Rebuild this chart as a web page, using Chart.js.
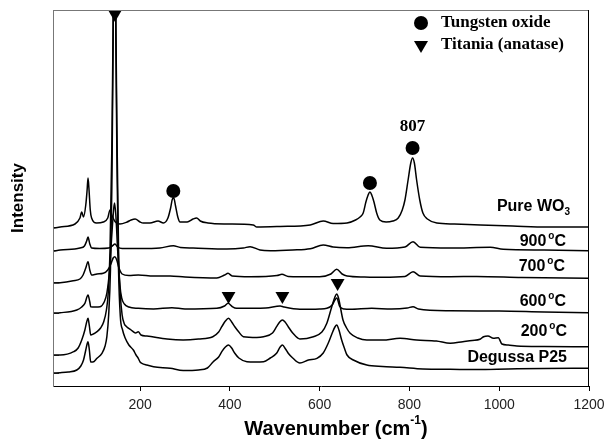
<!DOCTYPE html>
<html>
<head>
<meta charset="utf-8">
<script src="https://cdn.jsdelivr.net/npm/chart.js@4/dist/chart.umd.min.js"></script>
<style>
  html, body { margin: 0; padding: 0; background: #fff; }
</style>
</head>
<body>
<canvas id="raman" width="614" height="443"></canvas>
<script>
/* Raman spectra of WO3/TiO2 samples, stacked traces (arbitrary intensity units). */

const xTickValues = [200, 400, 600, 800, 1000, 1200];
const baselineTicks = [13, 31, 73, 104, 136, 159];

const p25Wn = [8, 22, 40, 59, 68, 74, 79, 82, 84, 87, 90, 95, 104, 115, 122, 126, 130, 134, 137, 140,
  143, 146, 149, 152, 156, 161, 167, 175, 185, 191, 196, 200, 204, 215, 230, 267, 296, 330, 350, 363,
  375, 382, 390, 397, 404, 411, 420, 438, 456, 475, 490, 504, 512, 517, 524, 530, 540, 556, 575, 594,
  608, 619, 628, 634, 638, 643, 649, 655, 661, 675, 705, 740, 779, 830, 891, 950, 1020, 1100, 1198];
const p25Int = [13, 13.3, 14, 16, 20, 26, 36, 42, 44.3, 36, 24, 24, 27.7, 32.7, 40, 49.3, 71, 116, 196, 346,
  686, 346, 206, 116, 69.3, 56, 47.7, 41, 36, 31, 27.7, 24, 22.7, 21, 19.3, 17.7, 15.5, 16, 18, 24.3,
  29, 34.3, 39, 41, 38, 32.7, 28, 24.3, 24, 24.3, 28, 32.7, 39, 41, 37, 32.7, 28, 23, 26, 27.7,
  33, 42.7, 53, 59, 61, 56, 46, 38, 31, 26, 21, 19.5, 18.7, 17, 16.7, 16.5, 17, 17.5, 17.7];

const t200Wn = [8, 22, 52, 62, 70, 77, 81, 84, 87, 90, 96, 104, 112, 119, 125, 129, 133, 137, 140, 143,
  146, 149, 152, 156, 160, 165, 170, 180, 190, 196, 202, 215, 260, 296, 330, 362, 375, 382, 390, 397,
  404, 411, 420, 430, 460, 475, 495, 504, 511, 517, 523, 530, 540, 556, 586, 605, 616, 627, 634, 638,
  642, 652, 660, 668, 685, 705, 740, 779, 816, 860, 891, 919, 940, 957, 965, 975, 987, 998, 1006, 1020,
  1039, 1100, 1198];
const t200Int = [31, 31, 34.3, 38, 46, 56, 64, 67.7, 60, 51, 52, 54.3, 58, 64.3, 76, 93, 136, 236, 366, 686,
  366, 236, 136, 91, 71, 62, 59.3, 56, 53, 54.3, 51, 50, 47, 46, 47, 49.3, 54, 59.3, 65, 67.7,
  64, 59.3, 54, 49.3, 48.5, 49.3, 53, 59.3, 64, 66, 64, 59.3, 53, 47, 49.3, 54, 62.7, 79.3, 89, 92,
  88, 66, 58, 52.7, 48, 46, 46, 47.7, 46, 45, 42.7, 44.3, 45.5, 46.7, 49.3, 50, 47.7, 48.3, 42, 41,
  40, 39.5, 39.3];

const t600Wn = [8, 22, 59, 70, 77, 84, 88, 90, 100, 111, 120, 126, 132, 137, 141, 143, 146, 150, 155, 159,
  165, 175, 196, 230, 271, 300, 371, 388, 396, 405, 415, 480, 512, 520, 556, 600, 616, 628, 634, 638,
  645, 655, 668, 716, 760, 795, 808, 820, 891, 1000, 1100, 1198];
const t600Int = [73, 73.3, 76, 79, 82.7, 91, 84, 79.3, 79, 79.3, 84, 93, 116, 151, 176, 183, 171, 136, 101, 88,
  82, 79, 77.7, 77, 78.3, 77, 77.7, 80, 82.7, 79.5, 77.7, 78, 80, 79, 76.7, 77, 77.7, 81, 86, 88,
  79.3, 77, 76.7, 77.7, 77, 78, 79.3, 77, 75.3, 75, 74, 73.3];

const t700Wn = [8, 22, 51, 66, 73, 79, 84, 88, 92, 104, 118, 128, 135, 140, 144, 148, 153, 160, 175, 196,
  230, 267, 300, 371, 388, 396, 405, 445, 505, 516, 530, 556, 600, 625, 638, 650, 661, 700, 741, 790,
  808, 824, 891, 950, 1050, 1198];
const t700Int = [103, 103.3, 105.3, 107, 111, 118, 124.3, 116, 111, 112, 112.7, 116, 122, 128, 129.3, 126, 118, 112, 110.5, 111,
  110, 110, 109, 108, 111, 112.7, 110, 109.3, 110.5, 111.7, 109.5, 109.3, 109.3, 112, 116.7, 112, 110, 109, 108.7, 109.5,
  114.3, 110, 109.3, 109.5, 108.5, 107.7];

const t900Wn = [8, 22, 66, 76, 81, 84, 88, 92, 110, 130, 138, 144, 150, 160, 200, 244, 274, 290, 318, 393,
  430, 445, 467, 490, 540, 579, 608, 630, 661, 708, 749, 790, 808, 824, 891, 980, 1009, 1100, 1198];
const t900Int = [135, 136, 138, 140, 145, 149, 142, 138, 137.5, 138, 140, 142, 139, 137.5, 137.5, 138, 140.3, 138.5, 138, 137,
  138, 139.3, 136, 135.3, 136, 137.3, 141, 139, 138.3, 140.3, 137.7, 139, 144.3, 138.7, 138, 138.7, 136.7, 136, 135.3];

const wo3Wn = [8, 22, 55, 66, 70, 74, 79, 82, 84, 86, 89, 92, 103, 118, 128, 133, 137, 145, 155, 171,
  180, 189, 200, 207, 222, 240, 252, 262, 268, 272, 275, 279, 284, 289, 305, 318, 326, 334, 351, 393,
  452, 460, 512, 579, 608, 630, 661, 680, 690, 697, 703, 708, 712, 716, 721, 727, 734, 748, 763, 775,
  784, 790, 797, 803, 807, 811, 816, 823, 830, 840, 861, 900, 958, 1030, 1106, 1198];
const wo3Int = [158, 159, 162, 168, 174, 169, 181, 196, 208, 198, 176, 168, 163, 164, 168, 176, 171, 164, 162, 164,
  166, 167, 164, 163, 163, 165, 163, 168, 178, 187, 188, 180, 169, 164, 164, 167, 168, 165, 163, 162,
  161, 159, 159.5, 161, 165, 162.5, 163, 166, 169, 173, 184, 191, 194, 191, 184, 173, 166, 164, 165, 168,
  176, 186, 206, 223, 228, 223, 206, 186, 173, 167, 163, 162, 161, 160, 159, 159];

// peak markers
const wo3MarkWn = [274, 712, 807];
const wo3MarkInt = [195, 203, 238];
const anataseMarkWn = [144, 397, 517, 640];
const anataseMarkInt = [372, 90, 90, 103];

const traceNames = ['Degussa P25', '200', '600', '700', '900', 'Pure WO'];
const labelledPeak = '807';

const pts = (xs, ys) => xs.map((x, i) => ({ x, y: ys[i] }));

function trace(label, xs, ys) {
  return {
    type: 'line', label, data: pts(xs, ys),
    borderColor: '#000', borderWidth: 1.5, pointRadius: 0,
    cubicInterpolationMode: 'monotone', fill: false,
  };
}

function markers(label, xs, ys, style) {
  return {
    type: 'scatter', label, data: pts(xs, ys), clip: false,
    pointStyle: style, pointRadius: style === 'circle' ? 7 : 8,
    pointRotation: style === 'triangle' ? 180 : 0,
    backgroundColor: '#000', borderColor: '#000', borderWidth: 0,
  };
}

const SANS = '"Liberation Sans", Arial, sans-serif';
const SERIF = '"Liberation Serif", "Times New Roman", serif';

function rich(ctx, parts, x, y, align) {
  let w = 0;
  parts.forEach((p) => { ctx.font = p.font; p.w = ctx.measureText(p.t).width; w += p.w + (p.gap || 0); });
  let cx = align === 'right' ? x - w : align === 'center' ? x - w / 2 : x;
  ctx.textAlign = 'left';
  ctx.textBaseline = 'middle';
  parts.forEach((p) => {
    ctx.font = p.font;
    cx += p.gap || 0;
    ctx.fillText(p.t, cx, y + (p.dy || 0));
    cx += p.w;
  });
}

const deco = {
  id: 'deco',
  afterDraw(chart) {
    const { ctx, chartArea: a, scales: { x } } = chart;
    ctx.save();
    ctx.lineWidth = 1;
    ctx.strokeStyle = '#777';
    ctx.beginPath(); ctx.moveTo(a.left, a.top + 0.5); ctx.lineTo(a.right, a.top + 0.5); ctx.stroke();
    ctx.strokeStyle = '#000';
    ctx.beginPath(); ctx.moveTo(a.right - 0.5, a.top); ctx.lineTo(a.right - 0.5, a.bottom); ctx.stroke();

    ctx.fillStyle = '#000';
    const B16 = 'bold 16px ' + SANS, B10 = 'bold 10px ' + SANS;
    const deg = (t) => [{ t, font: B16 }, { t: 'o', font: B10, dy: -6, gap: 2 }, { t: 'C', font: B16 }];
    rich(ctx, [{ t: traceNames[5], font: B16 }, { t: '3', font: B10, dy: 5 }], 570, 207, 'right');
    rich(ctx, deg(traceNames[4]), 566, 242, 'right');
    rich(ctx, deg(traceNames[3]), 565, 267, 'right');
    rich(ctx, deg(traceNames[2]), 566, 302, 'right');
    rich(ctx, deg(traceNames[1]), 567, 332, 'right');
    rich(ctx, [{ t: traceNames[0], font: B16 }], 567, 358, 'right');

    // axis titles
    rich(ctx, [{ t: 'Wavenumber (cm', font: 'bold 20px ' + SANS },
      { t: '-1', font: 'bold 12px ' + SANS, dy: -8 },
      { t: ')', font: 'bold 20px ' + SANS }], 336, 429, 'center');
    ctx.save();
    ctx.translate(18, 198);
    ctx.rotate(-Math.PI / 2);
    rich(ctx, [{ t: 'Intensity', font: 'bold 17px ' + SANS }], 0, 0, 'center');
    ctx.restore();

    // legend
    ctx.beginPath(); ctx.arc(421, 23, 7, 0, Math.PI * 2); ctx.fill();
    ctx.beginPath(); ctx.moveTo(414, 41); ctx.lineTo(428, 41); ctx.lineTo(421, 53); ctx.closePath(); ctx.fill();
    rich(ctx, [{ t: 'Tungsten oxide', font: 'bold 17px ' + SERIF }], 441, 23, 'left');
    rich(ctx, [{ t: 'Titania (anatase)', font: 'bold 17px ' + SERIF }], 441, 45, 'left');

    rich(ctx, [{ t: labelledPeak, font: 'bold 17px ' + SERIF }], x.getPixelForValue(Number(labelledPeak)), 127, 'center');
    ctx.restore();
  },
};

Chart.defaults.font.family = SANS;

new Chart(document.getElementById('raman'), {
  type: 'line',
  data: {
    datasets: [
      trace('Degussa P25', p25Wn, p25Int),
      trace('200 C', t200Wn, t200Int),
      trace('600 C', t600Wn, t600Int),
      trace('700 C', t700Wn, t700Int),
      trace('900 C', t900Wn, t900Int),
      trace('Pure WO3', wo3Wn, wo3Int),
      markers('Tungsten oxide', wo3MarkWn, wo3MarkInt, 'circle'),
      markers('Titania (anatase)', anataseMarkWn, anataseMarkInt, 'triangle'),
    ],
  },
  options: {
    responsive: false,
    devicePixelRatio: 1,
    animation: false,
    events: [],
    layout: { padding: { left: 0, right: 25, top: 10, bottom: 0 } },
    plugins: { legend: { display: false }, tooltip: { enabled: false } },
    scales: {
      x: {
        type: 'linear', min: 6, max: 1200, position: 'bottom',
        afterBuildTicks: (s) => { s.ticks = xTickValues.map((v) => ({ value: v })); },
        afterFit: (s) => { s.height = 57; },
        ticks: {
          color: '#222', font: { size: 14 }, padding: 6, maxRotation: 0, autoSkip: false,
          callback: (v) => String(v),
        },
        grid: { drawOnChartArea: false, drawTicks: true, tickLength: 5, color: '#000' },
        border: { color: '#000', width: 1 },
      },
      y: {
        type: 'linear', min: 0, max: 376,
        afterBuildTicks: (s) => { s.ticks = baselineTicks.map((v) => ({ value: v })); },
        afterFit: (s) => { s.width = 53; },
        ticks: { display: false },
        grid: { drawOnChartArea: false, drawTicks: true, tickLength: -6, color: '#444' },
        border: { color: '#777', width: 1 },
      },
    },
  },
  plugins: [deco],
});
</script>
</body>
</html>
